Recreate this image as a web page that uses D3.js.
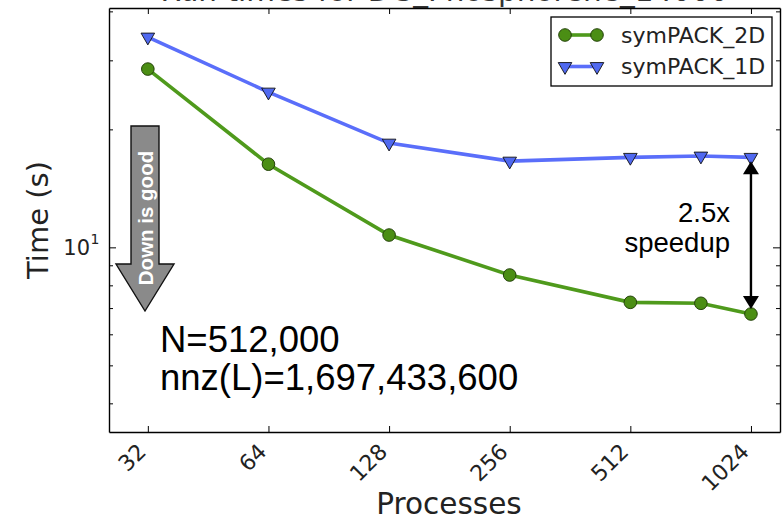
<!DOCTYPE html>
<html><head><meta charset="utf-8">
<script src="https://cdn.jsdelivr.net/npm/d3@7"></script>
<style>body{margin:0;background:#fff}svg{display:block}</style>
</head><body>
<svg id="c" width="782" height="519"></svg>
<script>
// ---- data ----
const processes = [32, 64, 128, 256, 512, 768, 1024];
const xTickValues = [32, 64, 128, 256, 512, 1024];
const sym2D = [28.5, 16.3, 10.75, 8.5, 7.24, 7.2, 6.76];
const sym1D = [34.4, 24.9, 18.45, 16.6, 16.97, 17.1, 16.97];
const seriesNames = ["symPACK_2D", "symPACK_1D"];
const yMajorTicks = [10];
const yMinorTicks = [4, 5, 6, 7, 8, 9, 20, 30, 40];
const titleText = "Run times for DG_Phosphorene_14000";
const infoLines = ["N=512,000", "nnz(L)=1,697,433,600"];
const speedupLines = ["2.5x", "speedup"];

// ---- layout ----
const L = 109, R = 780, T = 8, B = 432;
const svg = d3.select("#c");
const x = d3.scaleLog().base(2).domain([25.6, 1210]).range([L, R]);
const y = d3.scaleLog().domain([3.38, 40.8]).range([B, T]);

const green = "#4f9a1c", greenFill = "#4b8e14", greenEdge = "#24420a";
const blue = "#5a6efa", blueFill = "#5069f0";
const dejavu = "'DejaVu Sans', sans-serif";
const arial = "'Liberation Sans', Arial, sans-serif";

// title (cut off by the top of the frame)
svg.append("text").attr("x", (L + R) / 2).attr("y", 1)
  .attr("text-anchor", "middle").attr("font-family", dejavu)
  .attr("font-size", 29.5).attr("fill", "#333").text(titleText);

// axes
function styleAxis(g) {
  g.selectAll("path.domain").attr("stroke", "#000").attr("stroke-width", 1.4);
  g.selectAll(".tick line").attr("stroke", "#000").attr("stroke-width", 1);
}
// bottom
const gB = svg.append("g").attr("transform", `translate(0,${B})`)
  .call(d3.axisBottom(x).tickValues(xTickValues).tickSize(-6).tickSizeOuter(0)
    .tickFormat(d3.format("d")).tickPadding(0));
styleAxis(gB);
gB.selectAll(".tick text")
  .attr("font-family", dejavu).attr("font-size", 22).attr("fill", "#222")
  .attr("text-anchor", "end").attr("y", 0).attr("dy", 0)
  .attr("transform", "translate(-1,21) rotate(-45)");
// top
const gT = svg.append("g").attr("transform", `translate(0,${T})`)
  .call(d3.axisTop(x).tickValues(xTickValues).tickSize(-6).tickSizeOuter(0).tickFormat(""));
styleAxis(gT);
// left
const gL = svg.append("g").attr("transform", `translate(${L},0)`)
  .call(d3.axisLeft(y).tickValues(yMinorTicks).tickSize(-4).tickSizeOuter(0).tickFormat(""));
styleAxis(gL);
const gL2 = svg.append("g").attr("transform", `translate(${L},0)`)
  .call(d3.axisLeft(y).tickValues(yMajorTicks).tickSize(-7).tickSizeOuter(0).tickFormat(""));
styleAxis(gL2);
gL2.select("path.domain").remove();
// right
const gR = svg.append("g").attr("transform", `translate(${R},0)`)
  .call(d3.axisRight(y).tickValues(yMinorTicks).tickSize(-4).tickSizeOuter(0).tickFormat(""));
styleAxis(gR);
const gR2 = svg.append("g").attr("transform", `translate(${R},0)`)
  .call(d3.axisRight(y).tickValues(yMajorTicks).tickSize(-7).tickSizeOuter(0).tickFormat(""));
styleAxis(gR2);
gR2.select("path.domain").remove();

// y major label 10^1
yMajorTicks.forEach(v => {
  svg.append("text").attr("font-family", dejavu).attr("fill", "#222")
    .attr("x", 90).attr("y", y(v) + 7.5).attr("text-anchor", "end")
    .attr("font-size", 21).text("10");
  svg.append("text").attr("font-family", dejavu).attr("fill", "#222")
    .attr("x", 90.5).attr("y", y(v) - 3).attr("font-size", 14).text(Math.round(Math.log10(v)));
});

// axis titles
svg.append("text").attr("transform", "translate(48,220) rotate(-90)")
  .attr("text-anchor", "middle").attr("font-family", dejavu).attr("font-size", 29)
  .attr("fill", "#222").text("Time (s)");
svg.append("text").attr("x", 449).attr("y", 514)
  .attr("text-anchor", "middle").attr("font-family", dejavu).attr("font-size", 29.5)
  .attr("fill", "#222").text("Processes");

// "Down is good" arrow
const arrowPts = [[131,126],[159,126],[159,264],[174,264],[145,311],[116,264],[131,264]];
svg.append("path").attr("d", d3.line()(arrowPts) + "Z")
  .attr("fill", "#8a8a8a").attr("stroke", "#111").attr("stroke-width", 1.4);
svg.append("text").attr("transform", "translate(152.5,218) rotate(-90)")
  .attr("text-anchor", "middle").attr("font-family", arial).attr("font-weight", "bold")
  .attr("font-size", 20.5).attr("fill", "#fff").text("Down is good");

// info text
infoLines.forEach((s, i) => {
  svg.append("text").attr("x", 160).attr("y", 352 + i * 38)
    .attr("font-family", arial).attr("font-size", 36.5).attr("fill", "#000").text(s);
});

// series lines
const line = d3.line().x((d, i) => x(processes[i])).y(d => y(d));
svg.append("path").datum(sym2D).attr("d", line).attr("fill", "none")
  .attr("stroke", green).attr("stroke-width", 3.6);
svg.append("path").datum(sym1D).attr("d", line).attr("fill", "none")
  .attr("stroke", blue).attr("stroke-width", 3.6);

const tri = d3.symbol().type(d3.symbolTriangle).size(80);
function drawCircle(g, cx, cy) {
  g.append("circle").attr("cx", cx).attr("cy", cy).attr("r", 6.3)
    .attr("fill", greenFill).attr("stroke", greenEdge).attr("stroke-width", 1);
}
function drawTri(g, cx, cy) {
  g.append("path").attr("d", tri()).attr("transform", `translate(${cx},${cy}) rotate(180)`)
    .attr("fill", blueFill).attr("stroke", "#111").attr("stroke-width", 0.9);
}
const gm = svg.append("g");
sym2D.forEach((v, i) => drawCircle(gm, x(processes[i]), y(v)));
sym1D.forEach((v, i) => drawTri(gm, x(processes[i]), y(v)));

// speedup arrow
const ax = x(processes[processes.length - 1]);
const yTop = y(sym1D[sym1D.length - 1]) + 4;
const yBot = y(sym2D[sym2D.length - 1]) - 5;
svg.append("line").attr("x1", ax).attr("x2", ax).attr("y1", yTop + 10).attr("y2", yBot - 10)
  .attr("stroke", "#000").attr("stroke-width", 2.4);
svg.append("path").attr("d", `M${ax},${yTop} L${ax-8},${yTop+13} L${ax+8},${yTop+13} Z`).attr("fill", "#000");
svg.append("path").attr("d", `M${ax},${yBot} L${ax-8},${yBot-13} L${ax+8},${yBot-13} Z`).attr("fill", "#000");
speedupLines.forEach((s, i) => {
  svg.append("text").attr("x", 730).attr("y", 222 + i * 30).attr("text-anchor", "end")
    .attr("font-family", arial).attr("font-size", 27.5).attr("fill", "#000").text(s);
});

// legend
const lg = svg.append("g");
lg.append("rect").attr("x", 551).attr("y", 17).attr("width", 221).attr("height", 69)
  .attr("fill", "#fff").attr("stroke", "#000").attr("stroke-width", 1.3);
const legendY = [35, 66.5];
seriesNames.forEach((name, i) => {
  const yy = legendY[i];
  lg.append("line").attr("x1", 565).attr("x2", 597).attr("y1", yy).attr("y2", yy)
    .attr("stroke", i === 0 ? green : blue).attr("stroke-width", 3.6);
  if (i === 0) { drawCircle(lg, 565, yy); drawCircle(lg, 597, yy); }
  else { drawTri(lg, 565, yy); drawTri(lg, 597, yy); }
  lg.append("text").attr("x", 621).attr("y", yy).attr("dy", "0.36em")
    .attr("font-family", dejavu).attr("font-size", 22).attr("fill", "#222").text(name);
});
</script>
</body></html>
